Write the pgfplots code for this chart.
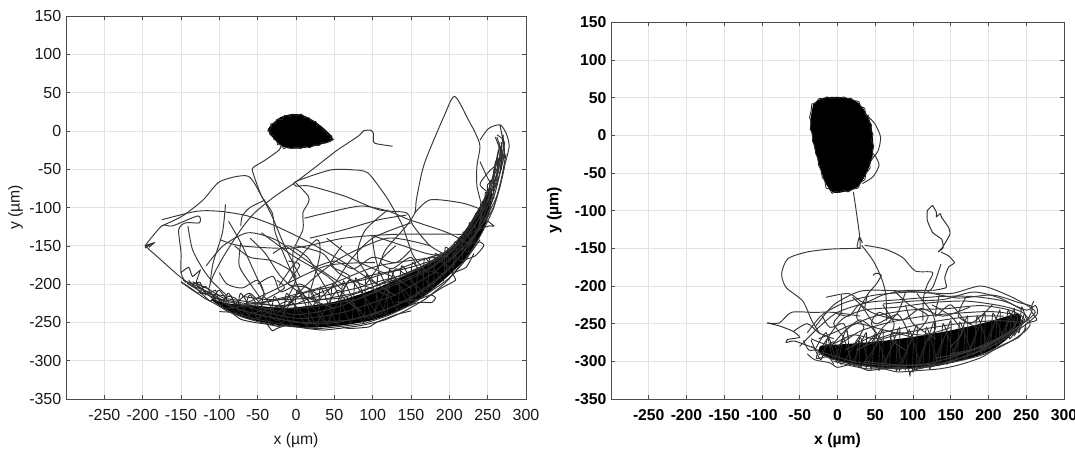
\documentclass[border=0pt]{standalone}
\usepackage{fontspec}
\setmainfont{Liberation Sans}
\usepackage{pgfplots}
\pgfplotsset{compat=1.18}
\pgfplotsset{
  panel/.style={
    scale only axis, xmin=-300, xmax=300, ymin=-350, ymax=150,
    xtick={-250,-200,...,300}, ytick={-350,-300,...,150},
    grid=major, major grid style={gray!22, line width=0.5pt},
    tick align=inside, tick pos=both, major tick length=3pt,
    tick style={black!70, line width=0.4pt},
    axis line style={black!70, line width=0.6pt},
    /pgf/number format/assume math mode=true,
    /pgf/number format/fixed,
    clip=true, axis on top=false,
    xlabel={x (µm)}, ylabel={y (µm)},
  },
  tr/.style={no markers, smooth, tension=0.45, line width=0.72pt, color=black!78},
  st/.style={no markers, smooth, tension=0.3, line width=0.72pt, color=black!82},
  zz/.style={no markers, smooth, tension=0.35, line width=0.65pt, color=black!85},
  core/.style={no markers, smooth, tension=0.5, fill=black, draw=black, line width=1pt},
}
\begin{document}
\begin{tikzpicture}
\useasboundingbox (0,0) rectangle (806.25pt,337.5pt);
%%%%%%%%%%%%%%%%%%%%%%%% LEFT
\begin{axis}[panel, at={(49.5pt,38.25pt)}, anchor=south west, width=345pt, height=287.25pt,
  ticklabel style={font=\fontsize{12}{13}\selectfont, text=black!90},
  label style={font=\fontsize{11.8}{13}\selectfont, text=black!90},
  xticklabel style={yshift=-4pt},
  xlabel style={yshift=-3pt}, ylabel style={yshift=-2pt}]
% cell blob
\addplot[core] coordinates {(-36,2)(-30,9)(-20,17)(-6,21)(8,20)(22,13)(33,5)(42,-3)(47,-10)(38,-15)(24,-19)(5,-22)(-10,-22)(-21,-17)(-29,-9)(-34,-3)(-36,2)};
\addplot[zz] coordinates {(-37,0)(-32,5)(-33,9)(-27,10)(-25,15)(-18,15)(-15,20)(-8,19)(-4,22)(2,20)(7,22)(11,18)(17,17)(20,13)(26,12)(28,7)(33,6)(35,1)(40,-1)(41,-5)(46,-6)(45,-10)(49,-11)(44,-14)(38,-16)(34,-15)(30,-19)(24,-18)(18,-22)(12,-20)(6,-23)(0,-21)(-6,-23)(-11,-21)(-16,-23)(-20,-18)(-24,-18)(-25,-13)(-29,-11)(-29,-6)(-34,-5)(-33,-1)(-37,0)};
% band core
\addplot[core] coordinates {(-110,-220)(-90,-226)(-60,-228)(-20,-232)(10,-230)(50,-224)(90,-212)(120,-200)(150,-186)(180,-170)(205,-152)(222,-130)(240,-100)(254,-75)(252,-105)(238,-140)(217,-170)(192,-194)(167,-214)(137,-232)(100,-246)(60,-253)(20,-256)(-20,-253)(-60,-245)(-90,-233)(-110,-220)};
% zigzag dense hatch along the band
\addplot[zz] coordinates {(-150,-197)(-128,-212)(-118,-203)(-98,-228)(-88,-212)(-70,-240)(-60,-214)(-35,-250)(-28,-216)(-5,-254)(2,-208)(28,-256)(32,-204)(55,-254)(62,-196)(88,-250)(92,-188)(118,-240)(122,-181)(148,-226)(152,-172)(178,-206)(182,-160)(204,-186)(207,-145)(225,-158)(226,-120)(240,-130)(241,-95)(252,-105)(253,-65)(262,-70)(263,-35)(268,-50)(268,-15)};
\addplot[zz] coordinates {(-140,-195)(-112,-222)(-100,-208)(-78,-238)(-72,-212)(-48,-247)(-42,-216)(-18,-252)(-12,-212)(15,-256)(18,-206)(42,-255)(48,-200)(72,-252)(78,-192)(102,-246)(108,-184)(132,-234)(138,-176)(164,-216)(168,-166)(192,-196)(195,-152)(216,-170)(218,-132)(233,-145)(234,-108)(246,-118)(247,-80)(258,-88)(258,-50)(266,-55)(266,-20)(272,-35)(270,-5)};
\addplot[zz] coordinates {(-130,-200)(-90,-232)(-60,-212)(-25,-248)(5,-210)(40,-250)(70,-195)(110,-240)(130,-180)(170,-212)(175,-165)(205,-178)(212,-140)(238,-128)(243,-92)(256,-92)(260,-40)(270,-42)};
\addplot[zz] coordinates {(-125,-212)(-80,-218)(-55,-246)(-10,-222)(25,-252)(55,-208)(95,-245)(125,-195)(155,-222)(160,-182)(195,-186)(198,-158)(228,-150)(230,-118)(250,-98)(250,-70)(265,-62)};
% band strands
\addplot[st] coordinates {(-150,-197)(-135,-207)(-120,-218)(-105,-226)(-90,-235)(-70,-243)(-50,-249)(-30,-253)(0,-256)(30,-258)(60,-255)(90,-251)(120,-241)(150,-227)(175,-210)(200,-192)(225,-162)(243,-132)(258,-100)(268,-62)(274,-30)};
\addplot[st] coordinates {(-147,-195)(-128,-203)(-110,-214)(-92,-226)(-72,-234)(-50,-240)(-20,-246)(10,-250)(40,-249)(70,-247)(100,-240)(130,-228)(158,-212)(185,-192)(210,-168)(232,-140)(248,-112)(260,-80)(268,-45)(271,-15)};
\addplot[st] coordinates {(-142,-199)(-120,-212)(-100,-220)(-80,-225)(-55,-232)(-25,-240)(5,-245)(35,-242)(65,-236)(95,-226)(125,-216)(155,-200)(180,-185)(205,-162)(228,-132)(244,-105)(257,-75)(266,-40)(270,-5)};
\addplot[st] coordinates {(-135,-197)(-115,-206)(-95,-218)(-70,-222)(-40,-226)(-10,-232)(20,-230)(50,-225)(80,-220)(110,-208)(140,-197)(170,-183)(195,-165)(218,-142)(238,-115)(252,-85)(262,-55)(268,-20)};
\addplot[st] coordinates {(-128,-204)(-104,-216)(-82,-230)(-56,-238)(-30,-244)(0,-250)(30,-252)(60,-249)(92,-241)(122,-231)(150,-219)(178,-200)(202,-178)(224,-150)(240,-122)(253,-92)(264,-62)(272,-28)(266,8)};
\addplot[st] coordinates {(-70,-216)(-40,-220)(-10,-220)(20,-218)(50,-212)(80,-205)(110,-196)(140,-188)(170,-174)(195,-158)(215,-138)(235,-110)(250,-80)(260,-50)(266,-15)};
\addplot[st] coordinates {(-50,-226)(-20,-228)(15,-224)(45,-218)(75,-212)(105,-202)(135,-192)(165,-178)(190,-165)(212,-146)(230,-122)};
\addplot[st] coordinates {(-62,-240)(-35,-232)(0,-226)(30,-212)(60,-200)(90,-194)(120,-185)(150,-178)(180,-168)(205,-150)};
\addplot[st] coordinates {(-25,-238)(10,-212)(40,-205)(70,-198)(100,-188)(130,-182)(160,-170)(190,-160)};
\addplot[st] coordinates {(-90,-232)(-60,-228)(-30,-234)(0,-240)(30,-236)(60,-228)(90,-215)(120,-202)(150,-190)(180,-175)(205,-155)(225,-128)(243,-100)(256,-62)(264,-25)};
\addplot[st] coordinates {(-110,-218)(-85,-222)(-60,-226)(-30,-222)(0,-216)(30,-220)(60,-218)(90,-208)(120,-195)(150,-183)(175,-172)};
\addplot[st] coordinates {(-80,-238)(-50,-246)(-15,-253)(15,-258)(35,-260)(55,-258)(85,-254)(115,-247)(140,-236)(168,-220)(195,-198)(220,-170)(240,-142)};
\addplot[st] coordinates {(-40,-249)(-31,-261)(-25,-258)(-13,-254)(5,-255)};
\addplot[st] coordinates {(130,-224)(159,-220)(176,-214)(182,-218)(177,-224)(160,-224)(140,-231)};
\addplot[st] coordinates {(215,-170)(234,-163)(245,-150)(240,-145)(225,-148)};
\addplot[st] coordinates {(240,-110)(258,-124)(252,-124)(240,-128)};
\addplot[st] coordinates {(-100,-236)(-85,-237)(-72,-246)(-55,-250)(-40,-252)(-20,-256)};
\addplot[st] coordinates {(60,-256)(70,-258)(95,-256)(105,-250)(130,-240)(150,-235)};
\addplot[st] coordinates {(170,-218)(190,-205)(208,-195)(205,-186)(222,-178)(232,-160)};
\addplot[st] coordinates {(-135,-200)(-125,-198)(-118,-214)(-105,-208)(-100,-222)(-85,-215)(-80,-228)};
% top right
\addplot[tr] coordinates {(90,-202)(108,-176)(117,-155)(144,-124)(155,-107)(157,-90)(164,-55)(171,-33)(193,19)(207,45)(225,14)(234,-3)(240,-20)(236,-46)(236,-72)(243,-103)(238,-125)};
\addplot[tr] coordinates {(240,-12)(251,3)(266,8)(274,-3)(278,-20)(272,-46)(265,-77)(256,-103)(238,-129)(220,-150)(198,-172)};
\addplot[tr] coordinates {(260,-8)(268,-30)(272,-45)(262,-85)(245,-118)};
\addplot[tr] coordinates {(262,-8)(268,-35)(250,-55)(240,-70)(252,-80)(260,-70)(268,-30)};
\addplot[tr] coordinates {(240,-40)(252,-65)(262,-72)};
\addplot[tr] coordinates {(262,-5)(272,-15)(266,-40)(258,-60)(250,-92)};
% tail
\addplot[tr] coordinates {(-20,-20)(-22,-25)(-40,-38)(-56,-48)(-56,-55)(-45,-85)(-31,-107)(-27,-133)(-13,-168)(0,-198)(9,-220)};
\addplot[tr] coordinates {(126,-20)(106,-17)(101,-14)(101,-3)(97,1)(88,0)(81,-7)(54,-25)(27,-46)(-2,-68)(-27,-85)(-54,-107)(-72,-129)(-94,-163)(-108,-189)(-114,-207)};
% crossing tracks
\addplot[tr] coordinates {(-175,-116)(-130,-105)(-99,-105)(-63,-111)(-27,-124)(18,-146)(63,-172)(108,-202)};
\addplot[tr] coordinates {(-197,-150)(-175,-124)(-161,-124)(-128,-111)(-126,-120)(-144,-120)(-153,-129)(-150,-159)(-150,-185)(-144,-198)};
\addplot[tr] coordinates {(-197,-150)(-180,-165)(-153,-189)(-135,-202)(-112,-211)};
\addplot[st] coordinates {(-197,-153)(-190,-148)(-197,-150)(-185,-146)(-192,-152)};
\addplot[tr] coordinates {(-141,-124)(-135,-155)(-121,-181)(-108,-198)(-90,-215)};
\addplot[tr] coordinates {(-175,-124)(-148,-111)(-121,-90)(-99,-66)(-63,-59)(-45,-85)(-31,-112)(-15,-150)(5,-190)};
\addplot[tr] coordinates {(-92,-96)(-96,-133)(-108,-172)(-112,-198)};
\addplot[tr] coordinates {(-88,-118)(-72,-146)(-54,-185)(-40,-215)};
\addplot[tr] coordinates {(76,-51)(45,-51)(0,-66)(0,-72)(18,-72)(63,-85)(108,-103)(144,-107)(153,-124)(175,-150)(198,-163)};
\addplot[tr] coordinates {(76,-51)(94,-55)(117,-85)(130,-107)(139,-124)(153,-163)(171,-185)};
\addplot[tr] coordinates {(0,-68)(16,-85)(16,-94)(9,-107)(9,-129)(-4,-159)(0,-198)(16,-222)};
\addplot[tr] coordinates {(11,-114)(40,-107)(85,-98)(121,-105)(148,-116)(198,-133)(225,-148)};
\addplot[tr] coordinates {(155,-107)(175,-90)(216,-94)(243,-103)};
\addplot[tr] coordinates {(-99,-142)(-72,-150)(-4,-153)(63,-140)(130,-135)(216,-135)};
\addplot[tr] coordinates {(-72,-124)(-70,-111)(-60,-100)(-40,-90)};
\addplot[tr] coordinates {(99,-137)(103,-163)(108,-181)};
\addplot[tr] coordinates {(18,-140)(63,-129)(108,-116)(144,-110)};
\addplot[tr] coordinates {(-45,-133)(-4,-163)(40,-189)(63,-211)};
\addplot[tr] coordinates {(-117,-176)(-95,-150)(-63,-133)(-27,-142)(18,-172)(63,-202)};
\addplot[tr] coordinates {(-22,-202)(-4,-176)(27,-142)(31,-163)(18,-211)};
\addplot[tr] coordinates {(-72,-146)(-74,-176)(-58,-202)(-45,-220)};
\addplot[tr] coordinates {(103,-172)(40,-176)(-27,-207)(-63,-224)};
\addplot[tr] coordinates {(198,-163)(108,-176)(40,-202)(-27,-220)(-72,-228)};
\addplot[tr] coordinates {(175,-150)(120,-140)(60,-165)(20,-195)(-10,-225)};
\addplot[tr] coordinates {(150,-120)(100,-140)(70,-170)(50,-200)(20,-230)};
\addplot[tr] coordinates {(120,-103)(90,-130)(80,-165)(100,-195)(130,-215)};
\addplot[tr] coordinates {(-30,-160)(-10,-150)(15,-165)(30,-190)(45,-215)};
\addplot[tr] coordinates {(-80,-150)(-60,-165)(-30,-170)(0,-190)(-15,-225)};
\addplot[tr] coordinates {(-100,-185)(-90,-200)(-70,-205)(-50,-195)(-42,-215)(-60,-232)};
\addplot[tr] coordinates {(-25,-195)(-15,-205)(-40,-220)};
\addplot[st] coordinates {(-150,-185)(-140,-178)(-135,-190)(-125,-182)(-130,-198)(-118,-205)};
\addplot[tr] coordinates {(-60,-140)(-40,-160)(-20,-190)(10,-215)(50,-232)};
\addplot[tr] coordinates {(40,-140)(80,-170)(125,-190)(150,-205)};
\addplot[tr] coordinates {(200,-165)(170,-160)(140,-150)(110,-140)(100,-137)};
\addplot[tr] coordinates {(0,-150)(35,-160)(55,-185)(85,-200)(120,-215)};
\addplot[tr] coordinates {(60,-150)(45,-175)(70,-190)(60,-215)(85,-235)};
\addplot[tr] coordinates {(-10,-170)(5,-175)(-10,-200)(15,-205)(25,-225)};
\addplot[tr] coordinates {(-50,-200)(-30,-190)(-20,-210)(5,-200)(30,-215)};
\addplot[tr] coordinates {(130,-150)(110,-170)(125,-180)(150,-165)(160,-185)};
\addplot[tr] coordinates {(20,-180)(50,-170)(75,-180)(100,-165)(130,-172)(150,-155)};
\end{axis}
%%%%%%%%%%%%%%%%%%%%%%%% RIGHT
\begin{axis}[panel, at={(458.25pt,38.25pt)}, anchor=south west, width=339.75pt, height=282.5pt,
  ticklabel style={font=\fontsize{11.8}{13}\bfseries, text=black},
  label style={font=\fontsize{11.8}{13}\bfseries, text=black},
  xticklabel style={yshift=-4pt},
  xlabel style={yshift=-3pt}, ylabel style={yshift=3pt}]
% cell blob
\addplot[core] coordinates {(-31,42)(-18,49)(2,50)(21,46)(32,37)(42,19)(46,-2)(46,-24)(39,-47)(26,-68)(9,-74)(-5,-75)(-15,-63)(-24,-37)(-31,-11)(-35,16)(-33,33)(-31,42)};
\addplot[zz] coordinates {(-34,42)(-30,42)(-24,49)(-19,48)(-14,51)(-8,49)(-2,50)(3,49)(8,51)(13,49)(18,49)(22,46)(28,45)(31,38)(36,36)(37,28)(41,26)(42,18)(45,14)(44,6)(47,2)(45,-8)(48,-14)(46,-22)(47,-30)(43,-36)(43,-44)(38,-50)(36,-59)(31,-62)(27,-70)(21,-71)(14,-75)(8,-73)(2,-76)(-3,-74)(-7,-77)(-11,-71)(-15,-70)(-17,-60)(-20,-56)(-22,-46)(-25,-40)(-26,-30)(-29,-24)(-30,-14)(-33,-8)(-33,2)(-36,8)(-35,18)(-37,24)(-35,32)(-34,42)};
\addplot[tr] coordinates {(36,29)(49,16)(57,-2)(54,-20)(47,-30)};
\addplot[tr] coordinates {(47,-24)(51,-29)(55,-40)(47,-55)(33,-64)};
% tail
\addplot[tr] coordinates {(21,-75)(24,-95)(29,-131)(30,-149)(26,-148)(29,-135)(33,-143)};
\addplot[tr] coordinates {(32,-146)(47,-166)(58,-189)(64,-211)(65,-246)};
\addplot[tr] coordinates {(31,-150)(-9,-151)(-41,-155)(-66,-164)(-74,-184)(-68,-202)(-46,-220)(-34,-246)(-23,-264)};
\addplot[tr] coordinates {(36,-146)(63,-151)(86,-162)(103,-180)(126,-182)(119,-198)(114,-215)(113,-246)};
\addplot[st] coordinates {(126,-93)(119,-100)(119,-113)(126,-129)(138,-138)(140,-149)(133,-155)(138,-150)(142,-144)(149,-131)(147,-122)(138,-109)(136,-104)(131,-108)(131,-102)(126,-93)};
\addplot[st] coordinates {(137,-155)(147,-160)(155,-169)(147,-175)(142,-189)(144,-202)(126,-206)};
\addplot[tr] coordinates {(137,-171)(126,-202)(115,-210)};
\addplot[st] coordinates {(47,-186)(49,-184)(53,-183)(58,-186)(51,-198)(40,-211)(36,-229)};
% left excursions
\addplot[tr] coordinates {(-93,-249)(-77,-249)(-61,-235)(-32,-235)(-5,-235)(30,-240)};
\addplot[st] coordinates {(-93,-249)(-77,-253)(-59,-260)(-50,-268)(-66,-271)(-68,-275)(-57,-273)(-32,-282)};
\addplot[tr] coordinates {(-58,-260)(-40,-250)(-25,-262)(-5,-270)};
% band core
\addplot[core] coordinates {(-22,-280)(10,-278)(58,-274)(103,-268)(149,-260)(194,-250)(228,-240)(240,-238)(238,-256)(206,-283)(164,-298)(113,-308)(58,-308)(13,-302)(-22,-290)(-22,-280)};
% dense hatch
\addplot[zz] coordinates {(-35,-272)(-22,-298)(-12,-268)(0,-302)(8,-270)(22,-306)(30,-268)(45,-310)(50,-265)(68,-310)(72,-262)(90,-311)(95,-258)(112,-309)(118,-255)(135,-305)(140,-250)(158,-298)(162,-248)(180,-292)(185,-240)(202,-284)(206,-236)(222,-272)(226,-232)(240,-262)(244,-228)(252,-250)};
\addplot[zz] coordinates {(-30,-285)(-15,-262)(-5,-298)(12,-258)(18,-304)(38,-262)(38,-308)(60,-258)(60,-310)(82,-255)(82,-312)(105,-252)(105,-310)(128,-248)(128,-306)(150,-246)(150,-301)(172,-240)(172,-294)(195,-236)(195,-286)(215,-232)(215,-276)(234,-230)(234,-266)(248,-236)};
\addplot[zz] coordinates {(-25,-292)(-5,-274)(5,-304)(28,-272)(30,-308)(55,-275)(55,-312)(78,-272)(78,-312)(100,-270)(100,-314)(122,-265)(122,-310)(145,-262)(145,-304)(168,-255)(168,-298)(190,-250)(190,-290)(210,-245)(210,-280)(230,-238)(228,-270)(246,-245)(240,-262)};
% loops
\addplot[tr] coordinates {(-40,-262)(-20,-238)(10,-222)(50,-212)(100,-208)(150,-210)(190,-200)(225,-212)(250,-225)(262,-235)(245,-250)(215,-268)(170,-288)(120,-303)(70,-306)(20,-300)(-20,-288)};
\addplot[tr] coordinates {(-30,-255)(-5,-225)(30,-207)(70,-206)(120,-209)(160,-216)(205,-212)(240,-222)(258,-228)(250,-246)(222,-266)(178,-290)(128,-305)(80,-310)(30,-305)(-10,-296)(-35,-280)};
\addplot[tr] coordinates {(-50,-280)(-25,-255)(0,-235)(40,-222)(85,-218)(135,-214)(180,-214)(220,-220)(250,-232)(262,-226)(264,-238)(240,-258)(200,-282)(150,-300)(100,-312)(96,-319)(90,-308)(40,-310)(-5,-300)};
\addplot[tr] coordinates {(-20,-280)(5,-245)(35,-232)(80,-228)(125,-222)(170,-220)(215,-226)(245,-235)(255,-252)(232,-272)(190,-292)(140,-303)(85,-305)(35,-300)};
\addplot[tr] coordinates {(-10,-282)(15,-255)(50,-240)(95,-232)(145,-230)(190,-226)(228,-232)(248,-245)(225,-265)(180,-285)(130,-296)};
\addplot[tr] coordinates {(0,-280)(30,-260)(70,-248)(115,-240)(160,-236)(205,-234)(238,-240)(230,-258)(195,-280)(150,-290)};
\addplot[tr] coordinates {(10,-285)(50,-265)(90,-255)(135,-246)(180,-240)(220,-240)};
\addplot[tr] coordinates {(25,-285)(60,-270)(110,-258)(160,-250)(210,-246)(240,-248)};
\addplot[tr] coordinates {(-25,-270)(-5,-262)(25,-250)(60,-258)(100,-268)};
\addplot[tr] coordinates {(-35,-270)(-10,-278)(20,-265)(50,-270)(80,-262)(115,-265)(150,-255)};
\addplot[tr] coordinates {(60,-224)(100,-220)(140,-218)(180,-208)(215,-216)(245,-232)};
\addplot[tr] coordinates {(-15,-215)(15,-210)(35,-222)(60,-212)(90,-206)(125,-206)};
\addplot[tr] coordinates {(-40,-290)(-30,-298)(-10,-302)(0,-308)(20,-304)(40,-312)(60,-310)(80,-314)(110,-312)(135,-310)(160,-305)(190,-295)(215,-280)(240,-268)(250,-255)};
\addplot[tr] coordinates {(-45,-272)(-38,-285)(-25,-285)(-28,-296)(-12,-294)(-5,-304)};
% crossing tracks
\addplot[tr] coordinates {(5,-212)(5,-235)(-5,-250)(10,-270)};
\addplot[tr] coordinates {(40,-211)(25,-240)(35,-255)(20,-280)};
\addplot[tr] coordinates {(90,-208)(80,-235)(60,-255)(45,-275)};
\addplot[tr] coordinates {(60,-225)(75,-250)(70,-270)(90,-285)};
\addplot[tr] coordinates {(105,-210)(125,-235)(130,-255)(120,-272)};
\addplot[tr] coordinates {(125,-225)(150,-240)(165,-262)(150,-280)};
\addplot[tr] coordinates {(170,-215)(160,-240)(185,-255)};
\addplot[tr] coordinates {(10,-260)(30,-245)(50,-262)(35,-280)};
\addplot[tr] coordinates {(-20,-240)(-10,-255)(8,-250)(15,-270)};
\addplot[tr] coordinates {(130,-270)(100,-250)(90,-225)};
\addplot[tr] coordinates {(75,-245)(55,-235)(45,-250)(60,-275)};
\addplot[tr] coordinates {(260,-220)(256,-232)(264,-245)(250,-250)(248,-262)};
\addplot[tr] coordinates {(20,-215)(45,-235)(85,-245)(110,-230)(140,-240)(175,-228)};
\addplot[tr] coordinates {(-5,-235)(15,-240)(30,-225)(50,-250)(80,-238)(95,-265)};
\addplot[tr] coordinates {(75,-206)(95,-225)(120,-240)(105,-262)};
\addplot[tr] coordinates {(135,-212)(130,-240)(150,-225)(175,-250)(205,-225)};
\end{axis}
\end{tikzpicture}
\end{document}
